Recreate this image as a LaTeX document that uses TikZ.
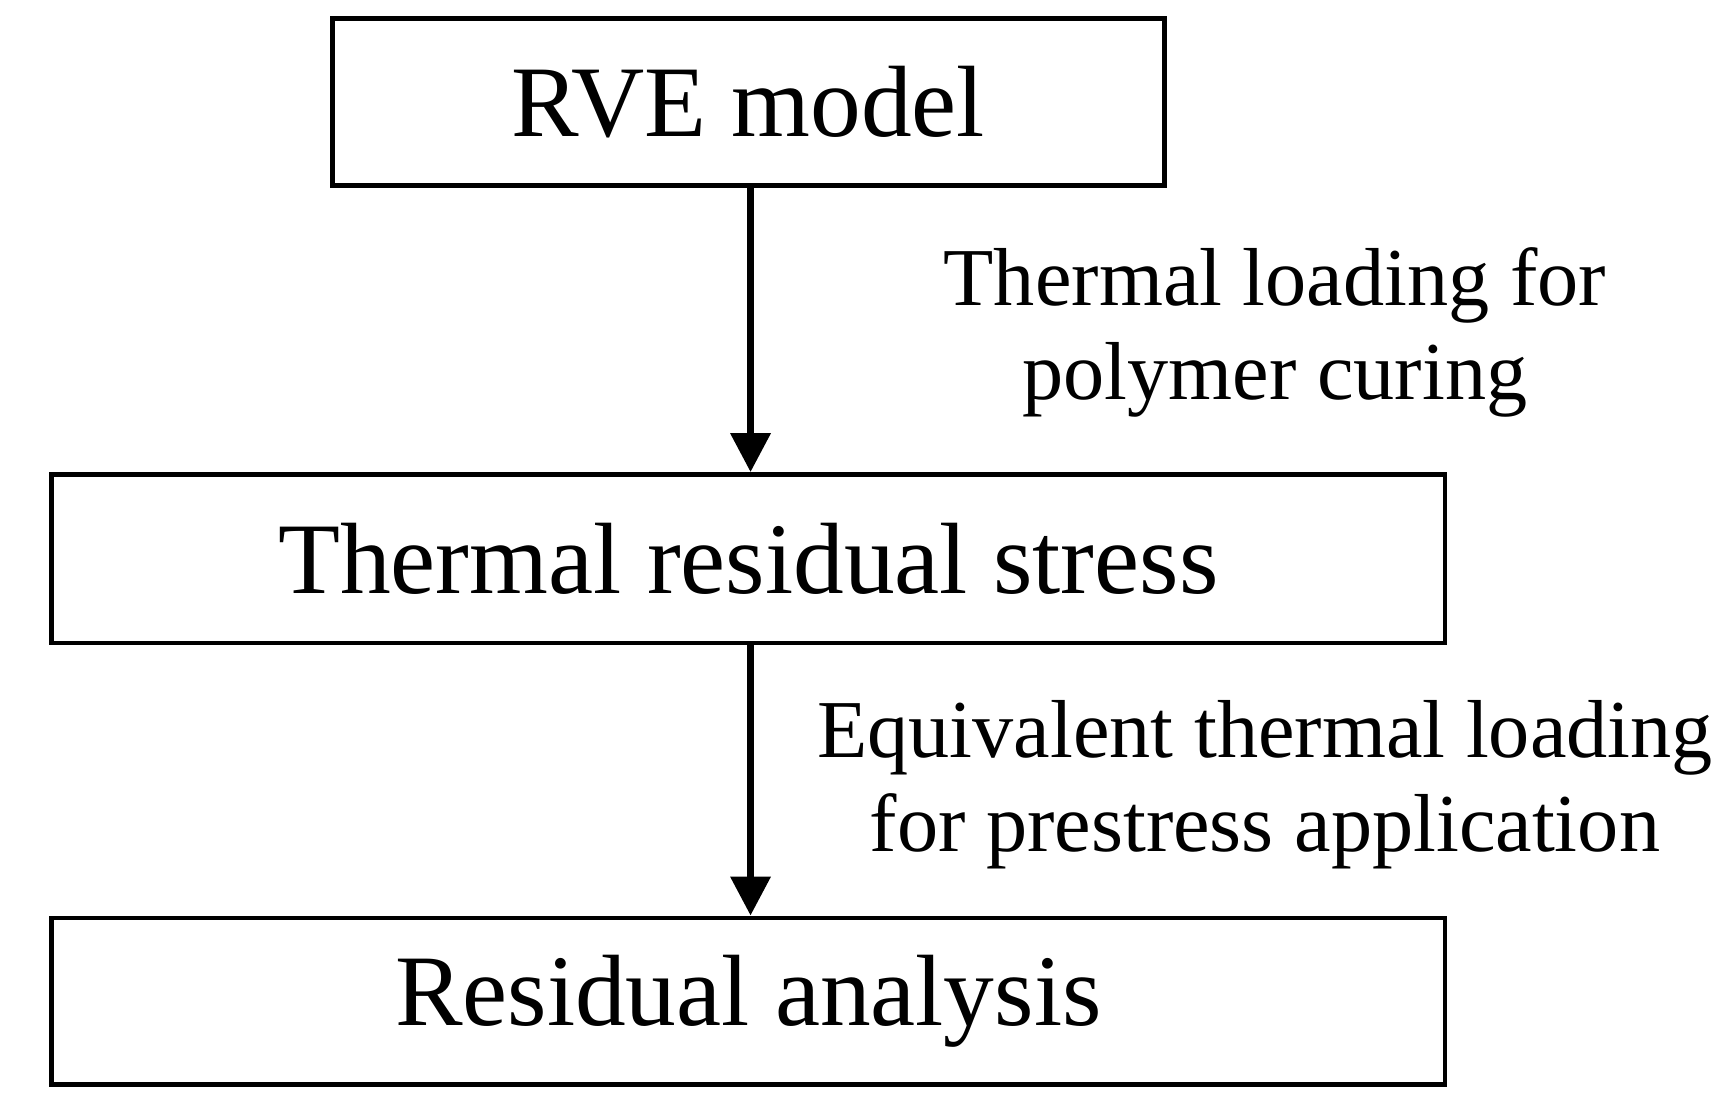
\documentclass[tikz,border=0pt]{standalone}
\usepackage{fontspec}
\setmainfont{Liberation Serif}
\usetikzlibrary{arrows.meta}
\begin{document}
\begin{tikzpicture}[x=0.01cm,y=-0.01cm,
            box/.style={draw, line width=1.2pt, rectangle, inner sep=0pt, font=\fontsize{26}{30}\selectfont},
            note/.style={align=center, font=\fontsize{21.1}{24.2}\selectfont},
            arrow/.style={-{Triangle[length=10pt,width=10pt]}, line width=1.8pt}
        ]
\useasboundingbox (0,0) rectangle (1565,1010);

% Boxes
            \node (rve) [box, minimum width=7.5cm, minimum height=1.51cm] at (675,92) {RVE model};
            \node (trs) [box, minimum width=12.56cm, minimum height=1.52cm] at (675,504) {Thermal residual stress};
            \node (res) [box, minimum width=12.56cm, minimum height=1.5cm] at (675,903) {Residual analysis};

% Arrows
            \draw [arrow] (rve.south -| 677,0) -- (trs.north -| 677,0);
            \draw [arrow] (trs.south -| 677,0) -- (res.north -| 677,0);

% Labels
            \node (cure) [note] at (1150,300) {Thermal loading for\\polymer curing};
            \node (pre) [note] at (1141,708) {Equivalent thermal loading\\for prestress application};

        \end{tikzpicture}
\end{document}
